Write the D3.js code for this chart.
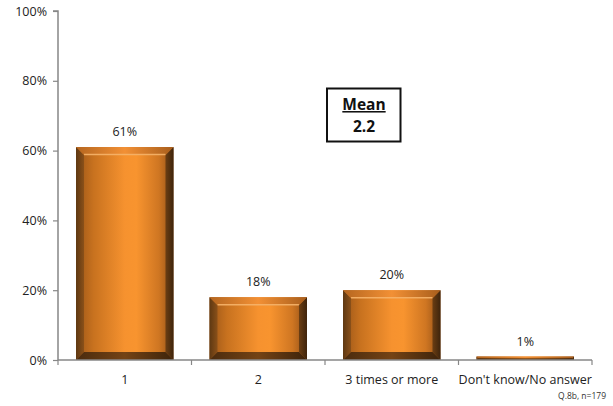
<!DOCTYPE html>
<html>
<head>
<meta charset="utf-8">
<script src="https://cdn.jsdelivr.net/npm/d3@7"></script>
<style>
  html, body { margin: 0; padding: 0; background: #fff; }
  svg { display: block; font-family: "Open Sans", "Liberation Sans", Arial, sans-serif; }
</style>
</head>
<body>
<svg id="chart" width="613" height="406"></svg>
<script>
// Frequency of responses (Q.8b)
const categories = ["1", "2", "3 times or more", "Don't know/No answer"];
const values = [61, 18, 20, 1];
const yTicks = [0, 20, 40, 60, 80, 100];
const meanLabel = "Mean";
const meanValue = "2.2";
const footnote = "Q.8b, n=179";

const FONT = "'Open Sans', 'Liberation Sans', Arial, sans-serif";
const LABEL_SIZE = 12.5;
const svg = d3.select("#chart");
const margin = { left: 58, right: 21, top: 11, bottom: 46 };
const W = 613, H = 406;

const x = d3.scaleBand()
  .domain(categories)
  .range([margin.left, W - margin.right])
  .paddingInner(0.27)
  .paddingOuter(0.135);

const y = d3.scaleLinear()
  .domain([0, 100])
  .range([H - margin.bottom, margin.top]);

const defs = svg.append("defs");
function gradient(id, stops) {
  const lg = defs.append("linearGradient").attr("id", id)
    .attr("x1", 0).attr("x2", 1).attr("y1", 0).attr("y2", 0);
  stops.forEach(([o, c]) => lg.append("stop").attr("offset", o).attr("stop-color", c));
}
// Horizontal shading of the front face and the bevelled edges
gradient("faceGrad", [[0, "#9a5518"], [0.18, "#c8721f"], [0.5, "#f6922f"], [0.62, "#f8942f"], [0.85, "#cf7622"], [1, "#8f4e16"]]);
gradient("leftGrad", [[0, "#5e3812"], [1, "#8a5019"]]);
gradient("rightGrad", [[0, "#6b3e13"], [1, "#3e240c"]]);
gradient("topGrad", [[0, "#b5661f"], [0.5, "#f29035"], [1, "#a85e1c"]]);
gradient("bottomGrad", [[0, "#4a2b0e"], [0.5, "#744315"], [1, "#3d230b"]]);

// Y axis
const yAxis = svg.append("g")
  .attr("transform", `translate(${margin.left},0)`)
  .call(d3.axisLeft(y).tickValues(yTicks).tickSize(5).tickFormat(d => d + "%"));
yAxis.select(".domain").attr("stroke", "#878787").attr("stroke-width", 1.5).attr("d", `M-5,${y(100)}H0V${y(0)}`);
yAxis.selectAll(".tick line").attr("stroke", "#878787").attr("stroke-width", 1.2);
yAxis.selectAll(".tick text").attr("x", -11).attr("fill", "#222").attr("font-size", LABEL_SIZE).attr("font-family", FONT);

// Bars with bevelled edges
const bars = svg.append("g").selectAll("g").data(values).join("g");
bars.each(function (v, i) {
  const g = d3.select(this);
  const x0 = x(categories[i]), x1 = x0 + x.bandwidth();
  const y0 = y(v), y1 = y(0);
  const h = y1 - y0;
  const b = Math.min(8, h / 2);
  const pts = a => a.map(p => p.join(",")).join(" ");
  g.append("rect").attr("x", x0).attr("y", y0).attr("width", x1 - x0).attr("height", h).attr("fill", "url(#faceGrad)");
  g.append("polygon").attr("points", pts([[x0, y0], [x0 + b, y0 + b], [x0 + b, y1 - b], [x0, y1]])).attr("fill", "url(#leftGrad)");
  g.append("polygon").attr("points", pts([[x1, y0], [x1 - b, y0 + b], [x1 - b, y1 - b], [x1, y1]])).attr("fill", "url(#rightGrad)");
  g.append("polygon").attr("points", pts([[x0, y0], [x1, y0], [x1 - b, y0 + b], [x0 + b, y0 + b]])).attr("fill", "url(#topGrad)");
  g.append("polygon").attr("points", pts([[x0, y1], [x1, y1], [x1 - b, y1 - b], [x0 + b, y1 - b]])).attr("fill", "url(#bottomGrad)");
  if (h > 14) {
    g.append("line").attr("x1", x0 + b).attr("x2", x1 - b).attr("y1", y0 + b - 0.5).attr("y2", y0 + b - 0.5)
      .attr("stroke", "#f7b46a").attr("stroke-width", 1.5).attr("opacity", 0.9);
  }
});

// X axis
const xAxis = svg.append("g")
  .attr("transform", `translate(0,${y(0)})`)
  .call(d3.axisBottom(x).tickSize(0).tickPadding(15));
xAxis.select(".domain").attr("stroke", "#878787").attr("stroke-width", 1.5).attr("d", `M${margin.left},0H${W - margin.right}`);
xAxis.selectAll(".tick text").attr("fill", "#222").attr("font-size", LABEL_SIZE).attr("font-family", FONT);
// Category separators
const seps = d3.range(categories.length + 1).map(k => margin.left + k * (W - margin.left - margin.right) / categories.length);
xAxis.selectAll("line.sep").data(seps).join("line").attr("class", "sep")
  .attr("x1", d => d).attr("x2", d => d).attr("y1", 0).attr("y2", 5)
  .attr("stroke", "#878787").attr("stroke-width", 1.2);

// Value labels
svg.append("g").selectAll("text").data(values).join("text")
  .attr("x", (d, i) => x(categories[i]) + x.bandwidth() / 2)
  .attr("y", d => y(d) - 11)
  .attr("text-anchor", "middle")
  .attr("font-size", LABEL_SIZE)
  .attr("font-family", FONT)
  .attr("fill", "#222")
  .text(d => d + "%");

// Mean box
const box = svg.append("g").attr("font-family", FONT);
box.append("rect").attr("x", 327).attr("y", 88.5).attr("width", 73.5).attr("height", 53)
  .attr("fill", "#fff").attr("stroke", "#111").attr("stroke-width", 2);
box.append("text").attr("x", 364).attr("y", 110).attr("text-anchor", "middle")
  .attr("font-size", 15.5).attr("font-weight", "bold").attr("text-decoration", "underline").attr("fill", "#111").text(meanLabel);
box.append("text").attr("x", 364).attr("y", 132).attr("text-anchor", "middle")
  .attr("font-size", 15.5).attr("font-weight", "bold").attr("fill", "#111").text(meanValue);

// Footnote
svg.append("text").attr("x", 606).attr("y", 399).attr("text-anchor", "end")
  .attr("font-family", FONT).attr("font-size", 8.5).attr("fill", "#333").text(footnote);
</script>
</body>
</html>
